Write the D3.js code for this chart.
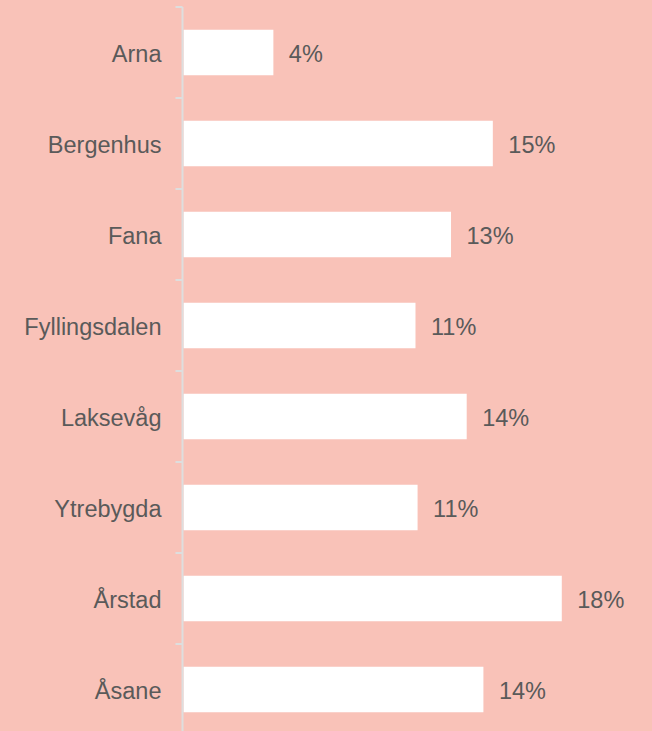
<!DOCTYPE html>
<html>
<head>
<meta charset="utf-8">
<script src="https://cdn.jsdelivr.net/npm/d3@7"></script>
<style>
    html, body { margin: 0; padding: 0; background: #F9C2B8; }
    svg { display: block; }
    .bar-label, .value-label { font-family: "Liberation Sans", Arial, sans-serif; font-size: 23.5px; fill: #5a5a5a; }
</style>
</head>
<body>
<svg width="652" height="731"></svg>
<script>
const categories = ["Arna", "Bergenhus", "Fana", "Fyllingsdalen", "Laksevåg", "Ytrebygda", "Årstad", "Åsane"];
const shares = [0.043, 0.148, 0.128, 0.111, 0.1355, 0.112, 0.181, 0.1435];

const data = categories.map(function(c, i) { return {name: c, value: shares[i]}; });

const svg = d3.select("svg");
const axisX = 182.5;

let x = d3.scaleLinear()
    .domain([0, 0.2])
    .range([183.5, 601.5]);

let y = d3.scaleBand()
    .domain(categories)
    .range([7, 735])
    .paddingInner(0.5)
    .paddingOuter(0.25);

// bars
svg.selectAll("rect.bar")
    .data(data)
    .enter()
    .append("rect")
    .attr("class", "bar")
    .attr("x", x(0))
    .attr("y", function(d) { return y(d.name); })
    .attr("width", function(d) { return x(d.value) - x(0); })
    .attr("height", y.bandwidth())
    .attr("fill", "#ffffff");

// axis line + ticks on the band boundaries
const step = y.step();
const bounds = d3.range(categories.length + 1).map(function(i) { return y.range()[0] + i * step; });

svg.append("line")
    .attr("x1", axisX).attr("x2", axisX)
    .attr("y1", bounds[0]).attr("y2", 731)
    .attr("stroke", "#DEDEDE")
    .attr("stroke-width", 2);

svg.selectAll("line.tick")
    .data(bounds)
    .enter()
    .append("line")
    .attr("class", "tick")
    .attr("x1", axisX - 7).attr("x2", axisX)
    .attr("y1", function(d) { return d; })
    .attr("y2", function(d) { return d; })
    .attr("stroke", "#DEDEDE")
    .attr("stroke-width", 2);

// category labels
svg.selectAll("text.bar-label")
    .data(data)
    .enter()
    .append("text")
    .attr("class", "bar-label")
    .attr("x", 161.5)
    .attr("y", function(d) { return y(d.name) + y.bandwidth() / 2; })
    .attr("dy", "0.39em")
    .attr("text-anchor", "end")
    .text(function(d) { return d.name; });

// value labels
const fmt = d3.format(".0%");
svg.selectAll("text.value-label")
    .data(data)
    .enter()
    .append("text")
    .attr("class", "value-label")
    .attr("x", function(d) { return x(d.value) + 15.5; })
    .attr("y", function(d) { return y(d.name) + y.bandwidth() / 2; })
    .attr("dy", "0.39em")
    .text(function(d) { return fmt(d.value); });
</script>
</body>
</html>
